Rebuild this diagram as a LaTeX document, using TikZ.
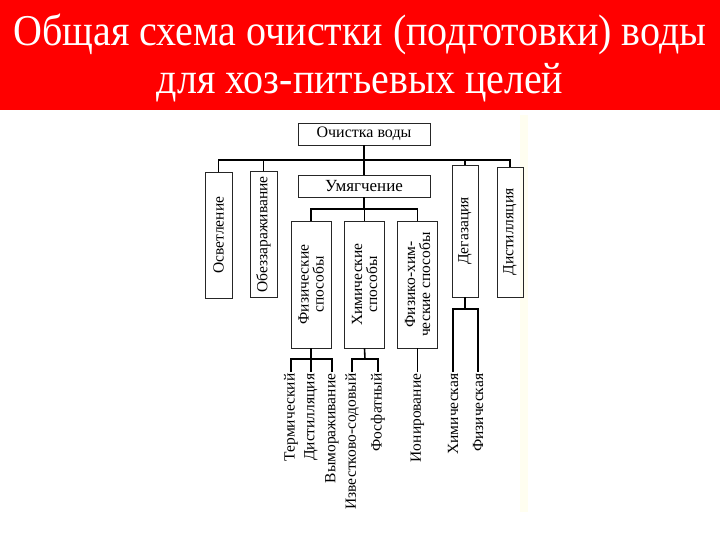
\documentclass[tikz,border=0pt]{standalone}
\usepackage{fontspec}
\setmainfont{Liberation Serif}
\usetikzlibrary{positioning}

\begin{document}
\begin{tikzpicture}[x=1pt,y=-1pt,
  title/.style={text=white,anchor=base,inner sep=0pt,font=\fontsize{40}{42}\selectfont},
  box/.style={draw=black!85,line width=0.9pt,inner sep=0pt,font=\fontsize{16}{16}\selectfont},
  vbox/.style={box,rotate=90,align=center,font=\fontsize{15.5}{15}\selectfont},
  leaf/.style={rotate=90,anchor=east,inner sep=1.5pt,font=\fontsize{15.5}{15}\selectfont},
  conn/.style={line width=1.6pt}]
\useasboundingbox (0,0) rectangle (720,540);
\fill[red] (0,0) rectangle (720,110);
\fill[yellow!6] (520,115) rectangle (528,512);
\node[title] (t1) at (360,46) {\scalebox{1}[1.1]{Общая схема очистки (подготовки) воды}};
\node[title] (t2) at (360,94) {\scalebox{1}[1.1]{для хоз-питьевых целей}};

% upper level
\node[box,minimum width=132,minimum height=22] (root) at (364,134) {Очистка воды};
\node[box,minimum width=132,minimum height=22,font=\fontsize{17}{17}\selectfont] (soft) at (364,186) {Умягчение};
\node[vbox,minimum width=126,minimum height=27] (osv) at (218.5,235) {Осветление};
\node[vbox,minimum width=126,minimum height=27] (obez) at (263.5,234.5) {Обеззараживание};
\node[vbox,minimum width=132,minimum height=26] (deg) at (465,231) {Дегазация};
\node[vbox,minimum width=130,minimum height=26] (dist) at (510,232) {Дистилляция};
\coordinate (bus) at (364,160);
\draw[conn] (root.south) -- (soft.north);
\draw[conn] (osv.east) -- (osv.east |- bus) -- (dist.east |- bus) -- (dist.east);
\draw[conn] (obez.east) -- (obez.east |- bus);
\draw[conn] (deg.east) -- (deg.east |- bus);

% softening methods
\node[vbox,minimum width=127,minimum height=40] (fiz) at (311,284.5) {Физические\\способы};
\node[vbox,minimum width=127,minimum height=40] (him) at (364.5,284.5) {Химические\\способы};
\node[vbox,minimum width=127,minimum height=40] (fh) at (417.5,284.5) {Физико-хим-\\ческие способы};
\coordinate (bus2) at (364,209);
\draw[conn] (soft.south) -- (bus2);
\draw[conn] (fiz.east) -- (fiz.east |- bus2) -- (fh.east |- bus2) -- (fh.east);
\draw[conn] (him.east) -- (him.east |- bus2);

% leaves
\node[leaf] (term) at (291,372) {Термический};
\node[leaf] (dstl) at (311,372) {Дистилляция};
\node[leaf] (vym) at (332,372) {Вымораживание};
\node[leaf] (izv) at (352,372) {Известково-содовый};
\node[leaf] (fosf) at (378,372) {Фосфатный};
\node[leaf] (ion) at (417.5,372) {Ионирование};
\node[leaf] (chem) at (453,372) {Химическая};
\node[leaf] (phys) at (478,372) {Физическая};
\coordinate (fbus) at (311,359);
\coordinate (hbus) at (365,359);
\coordinate (dbus) at (465,309);
\draw[conn] (fiz.west) -- (dstl.east);
\draw[conn] (term.east) -- (term.east |- fbus) -- (vym.east |- fbus) -- (vym.east);
\draw[conn] (him.west) -- (hbus);
\draw[conn] (izv.east) -- (izv.east |- hbus) -- (fosf.east |- hbus) -- (fosf.east);
\draw[conn] (fh.west) -- (ion.east);
\draw[conn] (deg.west) -- (dbus);
\draw[conn] (chem.east) -- (chem.east |- dbus) -- (phys.east |- dbus) -- (phys.east);
\end{tikzpicture}
\end{document}
